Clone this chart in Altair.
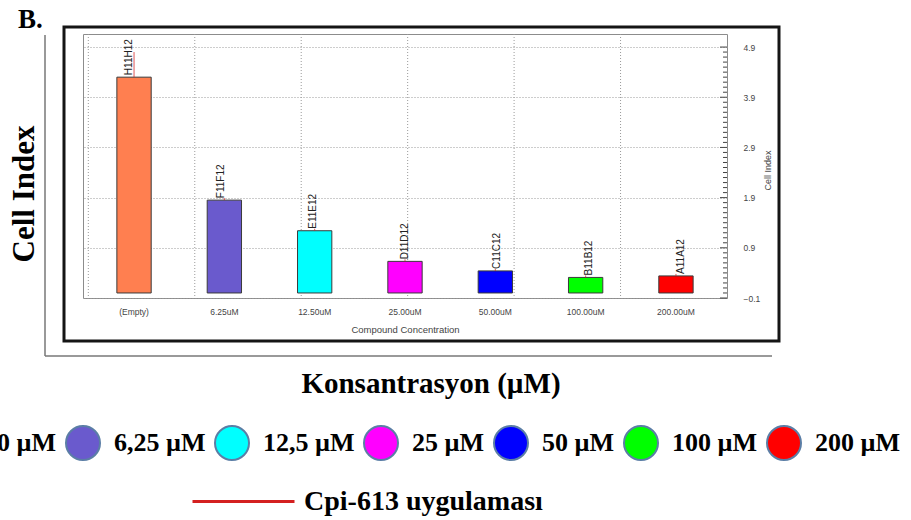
import altair as alt
import pandas as pd

# Concentrations (instrument labels), legend labels and measured cell index
categories = ["(Empty)", "6.25uM", "12.50uM", "25.00uM", "50.00uM", "100.00uM", "200.00uM"]
legend_labels = ["0 µM", "6,25 µM", "12,5 µM", "25 µM", "50 µM", "100 µM", "200 µM"]
cell_index = [4.30, 1.85, 1.24, 0.63, 0.44, 0.31, 0.34]
cell_index_sd = [0.50, 0.04, 0.04, 0.04, 0.04, 0.04, 0.04]
well_ids = ["H11H12", "F11F12", "E11E12", "D11D12", "C11C12", "B11B12", "A11A12"]
bar_colors = ["#FF7F50", "#6A5ACD", "#00FFFF", "#FF00FF", "#0000FF", "#00FF00", "#FF0000"]
treatment = "Cpi-613 uygulaması"

# Axis ticks of the instrument plot
major_ticks = [-0.1, 0.9, 1.9, 2.9, 3.9, 4.9]
minor_ticks = [round(-0.1 + 0.1 * i, 1) for i in range(51) if i % 10]
grid_columns = [0, 1, 2, 3, 4, 5]

W, H = 644, 264
Y_DOMAIN = [-0.1, 5.16]
SANS = "Liberation Sans"
SERIF = "Liberation Serif"

df = pd.DataFrame({
    "konsantrasyon": categories,
    "etiket": legend_labels,
    "ci": cell_index,
    "ust": [v + s for v, s in zip(cell_index, cell_index_sd)],
    "kuyu": well_ids,
    "uygulama": [treatment] * len(categories),
})
one = pd.DataFrame({"bir": [1]})

x_scale = alt.Scale(paddingInner=0.62, paddingOuter=0.375)
y_scale = alt.Scale(domain=Y_DOMAIN, nice=False, zero=False)

x_axis = alt.Axis(
    orient="bottom", title="Compound Concentration", labelAngle=0,
    labelFont=SANS, labelFontSize=8.5, labelColor="#444", labelPadding=9,
    ticks=False, domain=False, grid=False,
    titleFont=SANS, titleFontSize=9.5, titleFontWeight="normal", titleColor="#444",
    titleX=W / 2, titleY=31, titleBaseline="middle", titleAlign="center",
)
# The same axis definition is given to every layer sharing the y scale
y_axis = alt.Axis(
    orient="right", values=major_ticks, format=".1f", title="Cell Index",
    titleAngle=270, titleFont=SANS, titleFontSize=9, titleFontWeight="normal",
    titleColor="#444", titleX=40, titleY=H / 2 + 4, titleAlign="center",
    titleBaseline="middle",
    labelFont=SANS, labelFontSize=8.5, labelColor="#444", labelPadding=16,
    labelAlign="left", ticks=False, domain=False,
    grid=True, gridColor="#9a9a9a", gridDash=[1, 2], gridWidth=1,
)

base = alt.Chart(df)
x_plain = alt.X("konsantrasyon:N", sort=categories, scale=x_scale, axis=None)

bars = base.mark_bar(stroke="#3a3a3a", strokeWidth=1).encode(
    x=alt.X("konsantrasyon:N", sort=categories, scale=x_scale, axis=x_axis),
    y=alt.Y("ci:Q", scale=y_scale, axis=y_axis),
    y2=alt.datum(0),
    fill=alt.Fill(
        "etiket:N",
        scale=alt.Scale(domain=legend_labels, range=bar_colors),
        legend=alt.Legend(
            orient="none", legendX=-135, legendY=391, direction="horizontal",
            title=None, symbolType="circle", symbolSize=1156,
            symbolStrokeColor="#5b7ea6", symbolStrokeWidth=2, symbolOpacity=1,
            labelFont=SERIF, labelFontWeight="bold", labelFontSize=26,
            labelColor="black", labelOffset=13, columnPadding=5, padding=0,
            labelLimit=300,
        ),
    ),
)

errors = base.mark_rule(strokeWidth=1, opacity=0.75).encode(
    x=x_plain,
    y=alt.Y("ci:Q", scale=y_scale, axis=y_axis),
    y2="ust:Q",
    stroke=alt.Stroke(
        "uygulama:N",
        scale=alt.Scale(range=["#d42020"]),
        legend=alt.Legend(
            orient="none", legendX=108, legendY=415, title=None,
            symbolType="stroke", symbolSize=10404, symbolStrokeWidth=3,
            symbolOpacity=1, labelFont=SERIF, labelFontWeight="bold",
            labelFontSize=28, labelColor="black", labelOffset=8, padding=0,
            labelLimit=400,
        ),
    ),
)

well_labels = base.mark_text(
    angle=270, align="left", baseline="middle", dx=2,
    font=SANS, fontSize=10, color="#222",
).encode(
    x=x_plain,
    y=alt.Y("ci:Q", scale=y_scale, axis=y_axis),
    text="kuyu:N",
)

major_tick_marks = alt.Chart(pd.DataFrame({"deger": major_ticks})).mark_rule(
    color="#444", strokeWidth=1
).encode(
    y=alt.Y("deger:Q", scale=y_scale, axis=y_axis),
    x=alt.value(W - 7), x2=alt.value(W),
)
minor_tick_marks = alt.Chart(pd.DataFrame({"deger": minor_ticks})).mark_rule(
    color="#444", strokeWidth=1
).encode(
    y=alt.Y("deger:Q", scale=y_scale, axis=y_axis),
    x=alt.value(W - 4), x2=alt.value(W),
)

# Vertical dotted grid of the instrument plot (its own hidden x scale)
vgrid = alt.Chart(pd.DataFrame({"sutun": grid_columns})).mark_rule(
    color="#9a9a9a", strokeDash=[1, 2], strokeWidth=1
).encode(
    x=alt.X("sutun:Q", scale=alt.Scale(domain=[-0.05, 6], nice=False, zero=False), axis=None)
)

# Frame of the instrument window and outer figure axes
frame = alt.Chart(one).mark_rect(fillOpacity=0, stroke="#151515", strokeWidth=3).encode(
    x=alt.value(-19), x2=alt.value(696), y=alt.value(-7), y2=alt.value(307)
)
outer_left = alt.Chart(one).mark_rule(color="#777", strokeWidth=1.5).encode(
    x=alt.value(-38), y=alt.value(1), y2=alt.value(322)
)
outer_bottom = alt.Chart(one).mark_rule(color="#777", strokeWidth=1.5).encode(
    x=alt.value(-38), x2=alt.value(689), y=alt.value(322)
)

panel_letter = alt.Chart(one).mark_text(
    text="B.", font=SERIF, fontWeight="bold", fontSize=27, align="left",
    baseline="alphabetic", color="black",
).encode(x=alt.value(-65), y=alt.value(-6))

outer_y_title = alt.Chart(one).mark_text(
    text="Cell Index", font=SERIF, fontWeight="bold", fontSize=31, angle=270,
    align="center", baseline="middle", color="black",
).encode(x=alt.value(-58), y=alt.value(160))

outer_x_title = alt.Chart(one).mark_text(
    text="Konsantrasyon (µM)", font=SERIF, fontWeight="bold", fontSize=29,
    align="center", baseline="alphabetic", color="black",
).encode(x=alt.value(348), y=alt.value(359))

chart = alt.layer(
    frame, outer_left, outer_bottom, panel_letter, outer_y_title, outer_x_title,
    vgrid, bars, errors, well_labels, major_tick_marks, minor_tick_marks,
).resolve_scale(
    x="independent"
).properties(
    width=W, height=H,
    padding={"left": 83, "top": 34, "right": 184, "bottom": 222},
    autosize=alt.AutoSizeParams(type="none"),
    background="white",
).configure_view(
    stroke="#8c8c8c", strokeWidth=1, fill="white"
)

chart.save("out.html", embed_options={"renderer": "svg", "actions": False})
